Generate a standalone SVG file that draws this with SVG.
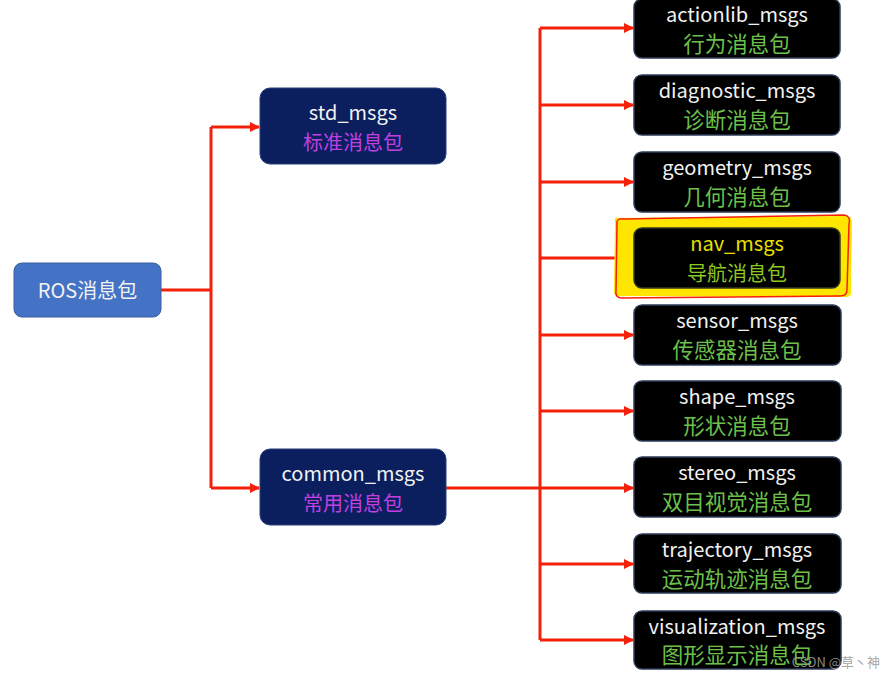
<svg xmlns="http://www.w3.org/2000/svg" width="895" height="678" viewBox="0 0 895 678">
<defs>
<marker id="arr" markerWidth="10" markerHeight="10" refX="9" refY="5" orient="auto" markerUnits="userSpaceOnUse">
<path d="M0,0 L10,5 L0,10 z" fill="#F5200A"/>
</marker>
<style>
.ln{stroke:#F5200A;stroke-width:3;fill:none}
.t{font-family:"Noto Sans CJK SC","Noto Sans",sans-serif;font-size:20px;text-anchor:middle}
.en{fill:#F2F2F2}
.zh{fill:#6CC04A;font-size:21.5px}
.mid{fill:#0B1F5E;stroke:#2A3F7A;stroke-width:1}
.leaf{fill:#000;stroke:#2C3A58;stroke-width:1.5}
</style>
</defs>
<rect width="895" height="678" fill="#fff"/>
<g id="connectors">
<path class="ln" d="M161,290 H211"/>
<path class="ln" d="M211,127 V488"/>
<path class="ln" d="M211,127 H259" marker-end="url(#arr)"/>
<path class="ln" d="M211,488 H259" marker-end="url(#arr)"/>
<path class="ln" d="M446,488 H540"/>
<path class="ln" d="M540,28 V640"/>
<path class="ln" d="M540,28 H633" marker-end="url(#arr)"/>
<path class="ln" d="M540,105 H633" marker-end="url(#arr)"/>
<path class="ln" d="M540,182 H633" marker-end="url(#arr)"/>
<path class="ln" d="M540,258 H633" marker-end="url(#arr)"/>
<path class="ln" d="M540,335 H633" marker-end="url(#arr)"/>
<path class="ln" d="M540,411 H633" marker-end="url(#arr)"/>
<path class="ln" d="M540,488 H633" marker-end="url(#arr)"/>
<path class="ln" d="M540,564 H633" marker-end="url(#arr)"/>
<path class="ln" d="M540,640 H633" marker-end="url(#arr)"/>
</g>
<g id="ros">
<rect x="14" y="263" width="147" height="54" rx="8" fill="#4472C4" stroke="#3A5FA0" stroke-width="1"/>
<text class="t" x="87.5" y="298" fill="#F2F2F2" font-size="22">ROS消息包</text>
</g>
<g id="std_msgs">
<rect class="mid" x="260" y="88" width="186" height="76" rx="10"/>
<text class="t en" x="353" y="120">std_msgs</text>
<text class="t" x="353" y="150" fill="#C040E0" font-size="21.5">标准消息包</text>
</g>
<g id="common_msgs">
<rect class="mid" x="260" y="449" width="186" height="76" rx="10"/>
<text class="t en" x="353" y="481">common_msgs</text>
<text class="t" x="353" y="511" fill="#C040E0" font-size="21.5">常用消息包</text>
</g>
<g id="actionlib_msgs">
<rect class="leaf" x="634" y="-1" width="206" height="59" rx="8"/>
<text class="t en" x="737" y="22">actionlib_msgs</text>
<text class="t zh" x="737" y="52">行为消息包</text>
</g>
<g id="diagnostic_msgs">
<rect class="leaf" x="634" y="75" width="206" height="60" rx="8"/>
<text class="t en" x="737" y="98">diagnostic_msgs</text>
<text class="t zh" x="737" y="128">诊断消息包</text>
</g>
<g id="geometry_msgs">
<rect class="leaf" x="634" y="152" width="206" height="60" rx="8" fill="#08131A"/>
<text class="t en" x="737" y="175">geometry_msgs</text>
<text class="t zh" x="737" y="205">几何消息包</text>
</g>
<g id="nav_msgs">
<path d="M618,218 Q614,216 615,222 L614,292 Q614,297 620,296 L846,297 Q852,297 851,291 L852,222 Q852,216 846,216 Z" fill="#FFE600"/>
<path d="M617,224 Q616,218 624,219 L844,215 Q851,216 849,224 L847,290 Q847,296 840,296 L621,298 Q615,297 616,291 Z" fill="none" stroke="#F5200A" stroke-width="1.5"/>
<rect x="634" y="228" width="206" height="60" rx="8" fill="#000" stroke="#303A20" stroke-width="1.5"/>
<text class="t" x="737" y="251" fill="#E8E000">nav_msgs</text>
<text class="t" x="737" y="281" fill="#8CC820" font-size="21.5">导航消息包</text>
</g>
<g id="sensor_msgs">
<rect class="leaf" x="634" y="305" width="207" height="60" rx="8"/>
<text class="t en" x="737" y="328">sensor_msgs</text>
<text class="t zh" x="737" y="358">传感器消息包</text>
</g>
<g id="shape_msgs">
<rect class="leaf" x="634" y="381" width="207" height="60" rx="8"/>
<text class="t en" x="737" y="404">shape_msgs</text>
<text class="t zh" x="737" y="434">形状消息包</text>
</g>
<g id="stereo_msgs">
<rect class="leaf" x="634" y="457" width="207" height="60" rx="8"/>
<text class="t en" x="737" y="480">stereo_msgs</text>
<text class="t zh" x="737" y="510">双目视觉消息包</text>
</g>
<g id="trajectory_msgs">
<rect class="leaf" x="634" y="534" width="207" height="59" rx="8"/>
<text class="t en" x="737" y="557">trajectory_msgs</text>
<text class="t zh" x="737" y="587">运动轨迹消息包</text>
</g>
<g id="visualization_msgs">
<rect class="leaf" x="634" y="611" width="207" height="58" rx="8"/>
<text class="t en" x="737" y="634">visualization_msgs</text>
<text class="t zh" x="737" y="663">图形显示消息包</text>
</g>
<text x="880" y="667" font-family="'Noto Sans CJK SC','Noto Sans',sans-serif" font-size="13" fill="#9A9A9A" fill-opacity="0.9" text-anchor="end">CSDN @草丶神</text>
</svg>
